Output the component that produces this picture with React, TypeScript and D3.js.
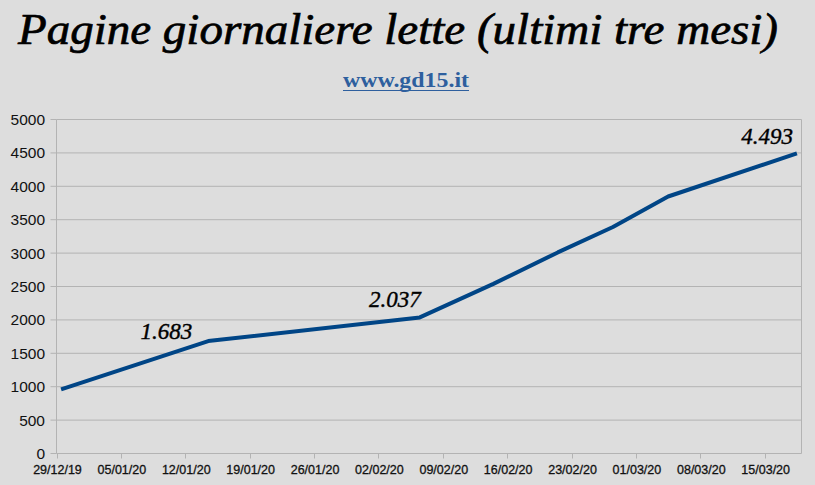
import React from "react";
import * as d3 from "d3";

const W = 815;
const H = 485;

const title = "Pagine giornaliere lette (ultimi tre mesi)";
const subtitle = "www.gd15.it";

// observation dates (noon) and daily pages read
const dates = [
  "2019-12-29T12:00",
  "2020-01-14T12:00",
  "2020-02-06T12:00",
  "2020-02-14T12:00",
  "2020-02-21T12:00",
  "2020-02-27T12:00",
  "2020-03-04T12:00",
  "2020-03-18T12:00",
];
const values = [960, 1683, 2037, 2540, 3010, 3390, 3847, 4493];

// which points carry a data label
const labelIndices = [1, 2, 7];
const labelTexts = ["1.683", "2.037", "4.493"];

const yTicks = [0, 500, 1000, 1500, 2000, 2500, 3000, 3500, 4000, 4500, 5000];
const xTickLabels = [
  "29/12/19", "05/01/20", "12/01/20", "19/01/20", "26/01/20", "02/02/20",
  "09/02/20", "16/02/20", "23/02/20", "01/03/20", "08/03/20", "15/03/20",
];
const xDomainStart = "2019-12-29T00:00";
const xDomainEnd = "2020-03-19T00:00";

// label offsets (style)
const labelOffsets: [number, number][] = [
  [-16, -2],
  [1, -10],
  [-4, -9],
];

const margin = { left: 56.5, right: 801.5, top: 119.5, bottom: 453.5 };

export default function App() {
  const parse = (s: string) => new Date(s);
  const x = d3
    .scaleTime()
    .domain([parse(xDomainStart), parse(xDomainEnd)])
    .range([margin.left, margin.right]);
  const y = d3.scaleLinear().domain([0, 5000]).range([margin.bottom, margin.top]);

  const pts = dates.map((d, i) => ({ d: parse(d), v: values[i] }));
  const line = d3
    .line<{ d: Date; v: number }>()
    .x((p) => x(p.d))
    .y((p) => y(p.v));

  const tickDates = xTickLabels.map((_, i) => d3.timeDay.offset(parse(xDomainStart), i * 7));

  const grid = "#b3b3b3";

  return (
    <div style={{ position: "fixed", left: 0, top: 0 }}>
      <svg width={W} height={H} style={{ display: "block" }}>
        <rect x={0} y={0} width={W} height={H} fill="#dddddd" />
        <text
          x={398}
          y={44}
          textAnchor="middle"
          fontFamily="'Liberation Serif', serif"
          fontStyle="italic"
          fontSize={44}
          textLength={760}
          lengthAdjust="spacingAndGlyphs"
          fill="#000"
          stroke="#000"
          strokeWidth={0.7}
        >
          {title}
        </text>
        <text
          x={406}
          y={87}
          textAnchor="middle"
          fontFamily="'Liberation Serif', serif"
          fontSize={22}
          fontWeight="bold"
          textLength={126}
          lengthAdjust="spacingAndGlyphs"
          fill="#2e5f9e"
        >
          {subtitle}
        </text>
        <line x1={343} x2={469} y1={90.5} y2={90.5} stroke="#2e5f9e" strokeWidth={1.2} />

        {/* grid lines */}
        {yTicks.map((t) => (
          <g key={t}>
            <line x1={margin.left} x2={margin.right} y1={y(t)} y2={y(t)} stroke={grid} strokeWidth={1} />
            <line x1={margin.left - 6} x2={margin.left} y1={y(t)} y2={y(t)} stroke={grid} strokeWidth={1} />
            <text
              x={45}
              y={y(t)}
              dy="0.36em"
              textAnchor="end"
              fontFamily="'Liberation Sans', Arial, sans-serif"
              fontSize={15.5}
              fill="#111"
            >
              {t}
            </text>
          </g>
        ))}
        {/* axes */}
        <line x1={margin.left} x2={margin.left} y1={margin.top} y2={margin.bottom} stroke={grid} />
        <line x1={margin.right} x2={margin.right} y1={margin.top} y2={margin.bottom} stroke={grid} />
        {tickDates.map((td, i) => (
          <g key={i}>
            <line x1={Math.round(x(td)) + 0.5} x2={Math.round(x(td)) + 0.5} y1={margin.bottom} y2={margin.bottom + 5} stroke={grid} />
            <text
              x={x(td) + 1}
              y={474}
              textAnchor="middle"
              fontFamily="'Liberation Sans', Arial, sans-serif"
              fontSize={12.5}
              fill="#111"
              stroke="#111"
              strokeWidth={0.3}
            >
              {xTickLabels[i]}
            </text>
          </g>
        ))}

        <path d={line(pts) || ""} fill="none" stroke="#004586" strokeWidth={4} strokeLinejoin="round" />

        {labelIndices.map((idx, k) => (
          <text
            key={k}
            x={x(pts[idx].d) + labelOffsets[k][0]}
            y={y(pts[idx].v) + labelOffsets[k][1]}
            textAnchor="end"
            fontFamily="'Liberation Serif', serif"
            fontStyle="italic"
            fontSize={23}
            fill="#000"
            stroke="#000"
            strokeWidth={0.4}
          >
            {labelTexts[k]}
          </text>
        ))}
      </svg>
    </div>
  );
}
